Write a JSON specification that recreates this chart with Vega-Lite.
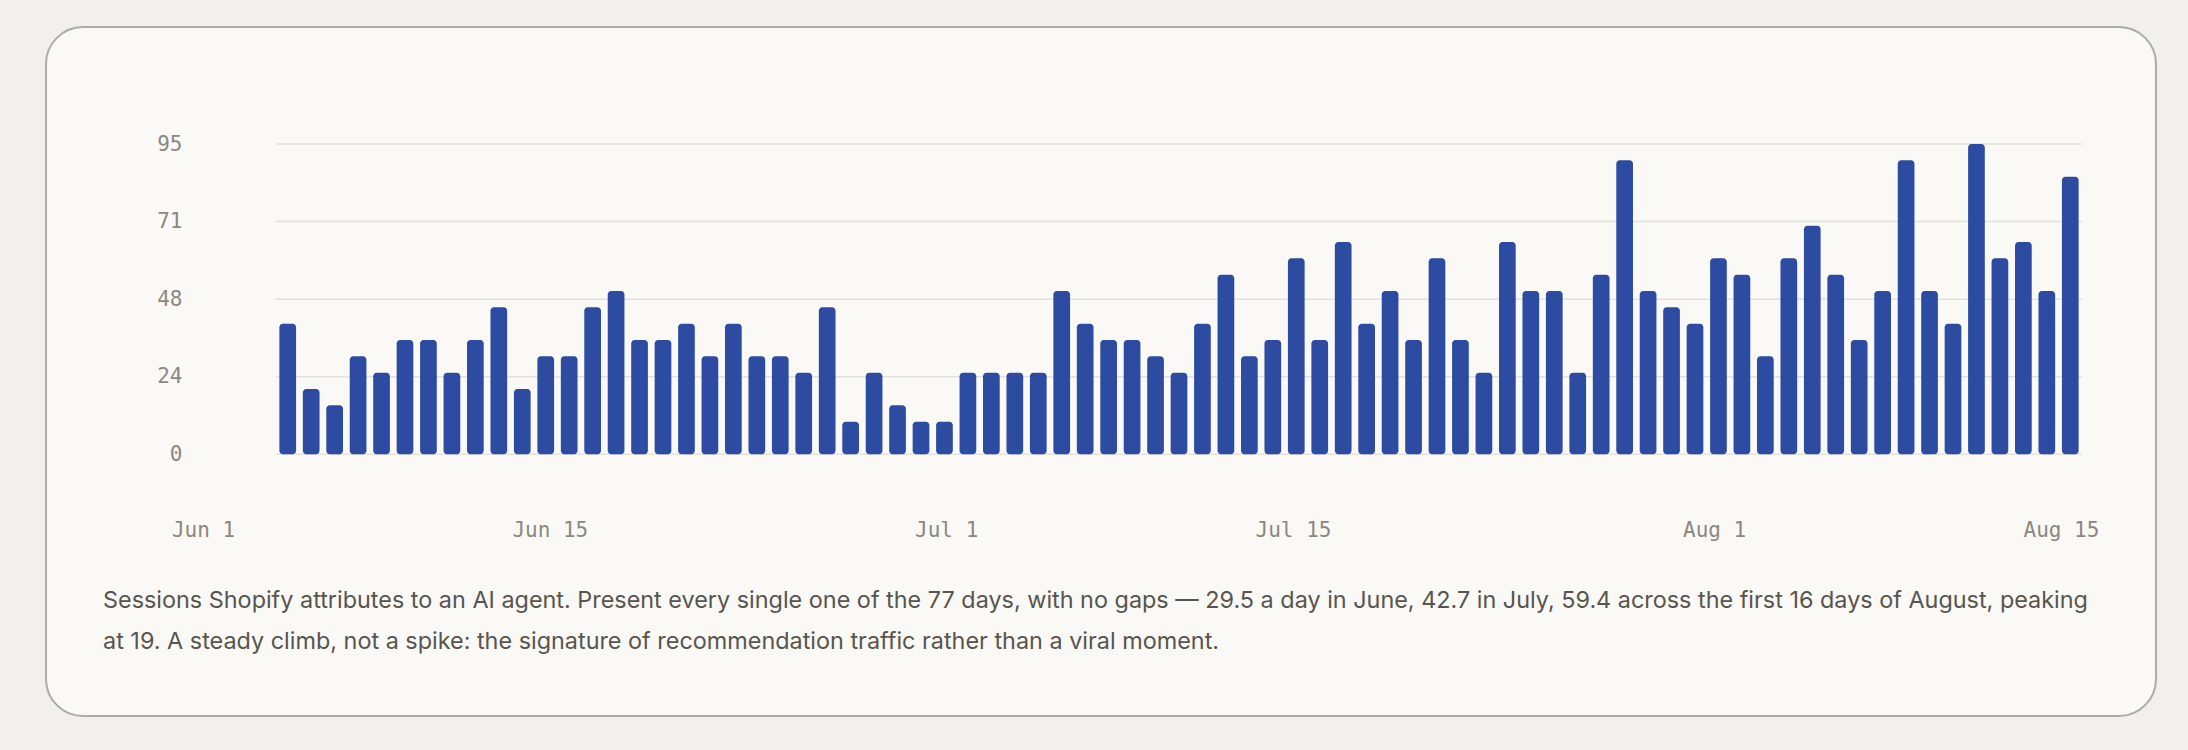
{
  "$schema": "https://vega.github.io/schema/vega-lite/v6.json",
  "width": 2110,
  "height": 689,
  "autosize": "none",
  "padding": {"left": 46, "top": 27, "right": 32, "bottom": 34},
  "background": "#f1f0ec",
  "datasets": {
    "days": [
      {"date": "2025-06-01", "sessions": 40}, {"date": "2025-06-02", "sessions": 20},
      {"date": "2025-06-03", "sessions": 15}, {"date": "2025-06-04", "sessions": 30},
      {"date": "2025-06-05", "sessions": 25}, {"date": "2025-06-06", "sessions": 35},
      {"date": "2025-06-07", "sessions": 35}, {"date": "2025-06-08", "sessions": 25},
      {"date": "2025-06-09", "sessions": 35}, {"date": "2025-06-10", "sessions": 45},
      {"date": "2025-06-11", "sessions": 20}, {"date": "2025-06-12", "sessions": 30},
      {"date": "2025-06-13", "sessions": 30}, {"date": "2025-06-14", "sessions": 45},
      {"date": "2025-06-15", "sessions": 50}, {"date": "2025-06-16", "sessions": 35},
      {"date": "2025-06-17", "sessions": 35}, {"date": "2025-06-18", "sessions": 40},
      {"date": "2025-06-19", "sessions": 30}, {"date": "2025-06-20", "sessions": 40},
      {"date": "2025-06-21", "sessions": 30}, {"date": "2025-06-22", "sessions": 30},
      {"date": "2025-06-23", "sessions": 25}, {"date": "2025-06-24", "sessions": 45},
      {"date": "2025-06-25", "sessions": 10}, {"date": "2025-06-26", "sessions": 25},
      {"date": "2025-06-27", "sessions": 15}, {"date": "2025-06-28", "sessions": 10},
      {"date": "2025-06-29", "sessions": 10}, {"date": "2025-06-30", "sessions": 25},
      {"date": "2025-07-01", "sessions": 25}, {"date": "2025-07-02", "sessions": 25},
      {"date": "2025-07-03", "sessions": 25}, {"date": "2025-07-04", "sessions": 50},
      {"date": "2025-07-05", "sessions": 40}, {"date": "2025-07-06", "sessions": 35},
      {"date": "2025-07-07", "sessions": 35}, {"date": "2025-07-08", "sessions": 30},
      {"date": "2025-07-09", "sessions": 25}, {"date": "2025-07-10", "sessions": 40},
      {"date": "2025-07-11", "sessions": 55}, {"date": "2025-07-12", "sessions": 30},
      {"date": "2025-07-13", "sessions": 35}, {"date": "2025-07-14", "sessions": 60},
      {"date": "2025-07-15", "sessions": 35}, {"date": "2025-07-16", "sessions": 65},
      {"date": "2025-07-17", "sessions": 40}, {"date": "2025-07-18", "sessions": 50},
      {"date": "2025-07-19", "sessions": 35}, {"date": "2025-07-20", "sessions": 60},
      {"date": "2025-07-21", "sessions": 35}, {"date": "2025-07-22", "sessions": 25},
      {"date": "2025-07-23", "sessions": 65}, {"date": "2025-07-24", "sessions": 50},
      {"date": "2025-07-25", "sessions": 50}, {"date": "2025-07-26", "sessions": 25},
      {"date": "2025-07-27", "sessions": 55}, {"date": "2025-07-28", "sessions": 90},
      {"date": "2025-07-29", "sessions": 50}, {"date": "2025-07-30", "sessions": 45},
      {"date": "2025-07-31", "sessions": 40}, {"date": "2025-08-01", "sessions": 60},
      {"date": "2025-08-02", "sessions": 55}, {"date": "2025-08-03", "sessions": 30},
      {"date": "2025-08-04", "sessions": 60}, {"date": "2025-08-05", "sessions": 70},
      {"date": "2025-08-06", "sessions": 55}, {"date": "2025-08-07", "sessions": 35},
      {"date": "2025-08-08", "sessions": 50}, {"date": "2025-08-09", "sessions": 90},
      {"date": "2025-08-10", "sessions": 50}, {"date": "2025-08-11", "sessions": 40},
      {"date": "2025-08-12", "sessions": 95}, {"date": "2025-08-13", "sessions": 60},
      {"date": "2025-08-14", "sessions": 65}, {"date": "2025-08-15", "sessions": 50},
      {"date": "2025-08-16", "sessions": 85}
    ],
    "grid": [{"v": 0}, {"v": 23.75}, {"v": 47.5}, {"v": 71.25}, {"v": 95}],
    "ticks": [
      {"d": "2025-06-01"}, {"d": "2025-06-15"}, {"d": "2025-07-01"},
      {"d": "2025-07-15"}, {"d": "2025-08-01"}, {"d": "2025-08-15"}
    ]
  },
  "title": {
    "text": [
      "Sessions Shopify attributes to an AI agent. Present every single one of the 77 days, with no gaps — 29.5 a day in June, 42.7 in July, 59.4 across the first 16 days of August, peaking",
      "at 19. A steady climb, not a spike: the signature of recommendation traffic rather than a viral moment."
    ],
    "orient": "bottom",
    "anchor": "start",
    "frame": "group",
    "baseline": "alphabetic",
    "offset": -108,
    "dx": 57,
    "font": "Inter",
    "fontSize": 23.4,
    "fontWeight": 400,
    "color": "#58554f",
    "lineHeight": 41
  },
  "layer": [
    {
      "layer": [
        {
          "data": {"name": "grid"},
          "mark": {"type": "rule", "color": "#e3e1db", "strokeWidth": 1.5},
          "encoding": {
            "y": {
              "field": "v",
              "type": "quantitative",
              "scale": {"domain": [-80.12, 130.82], "nice": false, "zero": false},
              "axis": {
                "values": [0, 23.75, 47.5, 71.25, 95],
                "format": ".0f",
                "grid": false,
                "domain": false,
                "ticks": false,
                "tickSize": 0,
                "labelPadding": 0,
                "offset": -136,
                "title": null,
                "labelFont": "DejaVu Sans Mono",
                "labelFontSize": 21,
                "labelColor": "#8c8881"
              }
            },
            "x": {"datum": "2025-06-01", "type": "ordinal", "bandPosition": -0.2, "axis": null},
            "x2": {"datum": "2025-08-16", "bandPosition": 1.2}
          }
        },
        {
          "data": {"name": "days"},
          "mark": {"type": "bar", "color": "#2d4ba0", "cornerRadius": 3.5},
          "encoding": {
            "x": {
              "field": "date",
              "type": "ordinal",
              "scale": {"range": [230, 2036], "paddingInner": 0.288, "paddingOuter": 0.144, "round": false},
              "axis": null
            },
            "y": {
              "field": "sessions",
              "type": "quantitative",
              "scale": {"domain": [-80.12, 130.82], "nice": false, "zero": false},
              "axis": {
                "values": [0, 23.75, 47.5, 71.25, 95],
                "format": ".0f",
                "grid": false,
                "domain": false,
                "ticks": false,
                "tickSize": 0,
                "labelPadding": 0,
                "offset": -136,
                "title": null,
                "labelFont": "DejaVu Sans Mono",
                "labelFontSize": 21,
                "labelColor": "#8c8881"
              }
            },
            "y2": {"datum": 0}
          }
        }
      ]
    },
    {
      "data": {"name": "ticks"},
      "mark": {"type": "rule", "opacity": 0},
      "encoding": {
        "x": {
          "field": "d",
          "type": "temporal",
          "scale": {
            "type": "utc",
            "domain": [
              {"year": 2025, "month": 5, "date": 25, "hours": 15, "minutes": 54, "utc": true},
              {"year": 2025, "month": 8, "date": 18, "hours": 20, "minutes": 4, "utc": true}
            ]
          },
          "axis": {
            "values": [
              {"year": 2025, "month": 6, "date": 1, "utc": true},
              {"year": 2025, "month": 6, "date": 15, "utc": true},
              {"year": 2025, "month": 7, "date": 1, "utc": true},
              {"year": 2025, "month": 7, "date": 15, "utc": true},
              {"year": 2025, "month": 8, "date": 1, "utc": true},
              {"year": 2025, "month": 8, "date": 15, "utc": true}
            ],
            "format": "%b %-d",
            "domain": false,
            "ticks": false,
            "tickSize": 0,
            "grid": false,
            "labelPadding": 0,
            "labelBaseline": "middle",
            "labelFlush": false,
            "labelOverlap": false,
            "offset": -186,
            "title": null,
            "labelFont": "DejaVu Sans Mono",
            "labelFontSize": 21,
            "labelColor": "#8c8881"
          }
        }
      }
    }
  ],
  "resolve": {"scale": {"x": "independent"}, "axis": {"x": "independent"}},
  "config": {
    "view": {"fill": "#faf9f6", "stroke": "#aeaba3", "strokeWidth": 2, "cornerRadius": 37}
  }
}
